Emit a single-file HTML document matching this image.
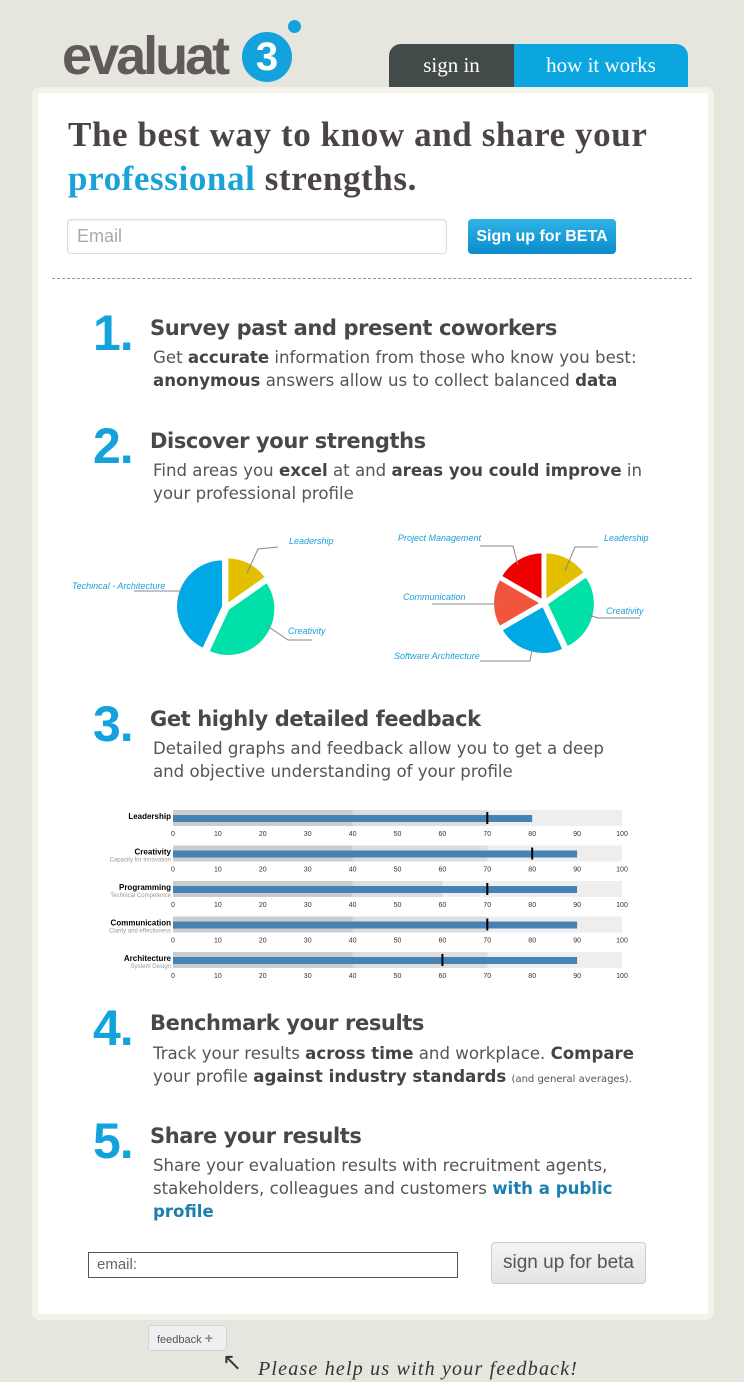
<!DOCTYPE html>
<html><head><meta charset="utf-8"><style>
body{margin:0;width:744px;height:1382px;background:#e6e6df;position:relative;overflow:hidden;font-family:"Liberation Sans",sans-serif}
.a{position:absolute;white-space:nowrap}
.card{position:absolute;left:32px;top:87px;width:670px;height:1221px;background:#fff;border:6px solid #f3f3ea;border-radius:8px}
.num{position:absolute;left:93px;font:bold 50px/50px "Liberation Sans",sans-serif;color:#14a2dc;letter-spacing:-1px}
.h{position:absolute;left:150px;font:bold 21px/22px "DejaVu Sans","Liberation Sans",sans-serif;color:#4a4747;letter-spacing:-0.4px}
.p{position:absolute;left:153px;font:16.6px/23px "DejaVu Sans","Liberation Sans",sans-serif;color:#555;white-space:nowrap}
.p b{color:#444}
</style></head><body>
<div class="a" style="left:62px;top:26px;font:bold 54px/60px 'Liberation Sans',sans-serif;color:#5e5b59;letter-spacing:-3px">evaluat</div>
<div class="a" style="left:242px;top:32px;width:40px;height:40px;border:5px solid #14a2dc;border-radius:50%;background:#14a2dc;color:#fff;font:bold 40px/40px 'Liberation Sans',sans-serif;text-align:center">3</div>
<div class="a" style="left:288px;top:20px;width:13px;height:13px;border-radius:50%;background:#14a2dc"></div>
<div class="a" style="left:389px;top:44px;width:125px;height:43px;background:#434a4a;border-radius:12px 0 0 0;color:#fff;font:21px/43px 'Liberation Serif',serif;text-align:center">sign in</div>
<div class="a" style="left:514px;top:44px;width:174px;height:43px;background:#0ba6e0;border-radius:0 12px 0 0;color:#fff;font:21px/43px 'Liberation Serif',serif;text-align:center">how it works</div>
<div class="card"></div>
<div class="a" style="left:68px;top:113px;font:bold 35px/44px 'Liberation Serif',serif;color:#4a4444;letter-spacing:0.6px">The best way to know and share your</div>
<div class="a" style="left:68px;top:157px;font:bold 35px/44px 'Liberation Serif',serif;color:#4a4444;letter-spacing:0.6px"><span style="color:#1aa3d6">professional</span> strengths.</div>
<div class="a" style="left:67px;top:219px;width:378px;height:33px;border:1px solid #ddd;border-radius:4px;box-shadow:inset 0 1px 2px #eee;font:18px/33px 'Liberation Sans',sans-serif;color:#aaa;text-indent:9px">Email</div>
<div class="a" style="left:468px;top:219px;width:148px;height:35px;border-radius:4px;background:linear-gradient(#2fb3e6,#0b8ccb);color:#fff;font:bold 16px/35px 'Liberation Sans',sans-serif;text-align:center">Sign up for BETA</div>
<div class="a" style="left:52px;top:278px;width:640px;border-top:1px dashed #999"></div>

<div class="num" style="top:308px">1.</div>
<div class="h" style="top:317px">Survey past and present coworkers</div>
<div class="p" style="top:346px">Get <b>accurate</b> information from those who know you best:<br><b>anonymous</b> answers allow us to collect balanced <b>data</b></div>
<div class="num" style="top:421px">2.</div>
<div class="h" style="top:430px">Discover your strengths</div>
<div class="p" style="top:459px">Find areas you <b>excel</b> at and <b>areas you could improve</b> in<br>your professional profile</div>

<svg class="a" style="left:0;top:0" width="744" height="1382" id="s"></svg>

<div class="num" style="top:699px">3.</div>
<div class="h" style="top:708px">Get highly detailed feedback</div>
<div class="p" style="top:737px">Detailed graphs and feedback allow you to get a deep<br>and objective understanding of your profile</div>
<div class="num" style="top:1003px">4.</div>
<div class="h" style="top:1012px">Benchmark your results</div>
<div class="p" style="top:1042px">Track your results <b>across time</b> and workplace. <b>Compare</b><br>your profile <b>against industry standards</b> <span style="font-size:10px">(and general averages).</span></div>
<div class="num" style="top:1116px">5.</div>
<div class="h" style="top:1125px">Share your results</div>
<div class="p" style="top:1154px">Share your evaluation results with recruitment agents,<br>stakeholders, colleagues and customers <b style="color:#1a7fb0">with a public</b><br><b style="color:#1a7fb0">profile</b></div>

<div class="a" style="left:88px;top:1252px;width:368px;height:24px;border:1px solid #555;font:15px/24px 'Liberation Sans',sans-serif;color:#666;text-indent:8px">email:</div>
<div class="a" style="left:491px;top:1242px;width:153px;height:40px;border:1px solid #ccc;border-radius:4px;background:linear-gradient(#f4f4f4,#e4e4e4);font:19px/40px 'Liberation Sans',sans-serif;color:#555;text-align:center">sign up for beta</div>
<div class="a" style="left:148px;top:1325px;width:77px;height:24px;border:1px solid #d4d4d4;border-radius:3px;background:#efefef;font:11px/24px 'Liberation Sans',sans-serif;color:#555;text-indent:8px">feedback <b style="color:#888;font-size:14px">+</b></div>
<div class="a" style="left:222px;top:1348px;font:24px/30px 'Liberation Serif',serif;color:#333">↖</div>
<div class="a" style="left:258px;top:1357px;font:italic 20px/24px 'Liberation Serif',serif;color:#333;letter-spacing:1.2px">Please help us with your feedback!</div>

<script>
var s=document.getElementById('s'),h='';
function P(cx,cy,r,a0,a1,c,ex){var m=(a0+a1)/2*Math.PI/180;cx+=ex*Math.sin(m);cy-=ex*Math.cos(m);
var x0=cx+r*Math.sin(a0*Math.PI/180),y0=cy-r*Math.cos(a0*Math.PI/180),x1=cx+r*Math.sin(a1*Math.PI/180),y1=cy-r*Math.cos(a1*Math.PI/180);
h+='<path d="M'+cx+' '+cy+'L'+x0+' '+y0+'A'+r+' '+r+' 0 '+((a1-a0)>180?1:0)+' 1 '+x1+' '+y1+'Z" fill="'+c+'" stroke="#fff" stroke-width="2"/>';}
function T(x,y,t,a){h+='<text x="'+x+'" y="'+y+'" font-family="Liberation Sans" font-style="italic" font-size="9" fill="#1a9fd8" text-anchor="'+(a||'start')+'">'+t+'</text>';}
function L(p){h+='<polyline points="'+p+'" fill="none" stroke="#888" stroke-width="1"/>';}
P(226,607,47,0,55,'#e2c000',3);P(226,607,47,55,205,'#00e0a8',3);P(226,607,47,205,360,'#00a8e4',3);
L('247,573 258,549 278,547');T(289,544,'Leadership');L('266,625 288,640 312,640');T(288,634,'Creativity');
L('182,591 160,591 134,591');T(72,589,'Techincal - Architecture');
P(544,603,48,0,55,'#e2c000',3);P(544,603,48,55,155,'#00e0a8',3);P(544,603,48,155,240,'#00a8e4',3);P(544,603,48,240,300,'#f2553e',3);P(544,603,48,300,360,'#ee0000',3);
L('565,571 575,547 598,547');T(604,541,'Leadership');L('589,615 598,618 640,618');T(606,614,'Creativity');
L('518,565 513,546 480,546');T(398,541,'Project Management');L('497,604 480,604 432,604');T(403,600,'Communication');
L('532,650 530,661 480,661');T(394,659,'Software Architecture');
var rows=[['Leadership','',[40,70],80,70],['Creativity','Capacity for Innovation',[40,70],90,80],['Programming','Technical Competence',[40,60],90,70],['Communication','Clarity and effectivness',[40,70],90,70],['Architecture','System Design',[40,70],90,60]];
var x0=173,k=4.49;
rows.forEach(function(r,i){var y=810+i*35.5;
h+='<rect x="'+x0+'" y="'+y+'" width="'+(100*k)+'" height="16" fill="#eeeeee"/>';
h+='<rect x="'+x0+'" y="'+y+'" width="'+(r[2][1]*k)+'" height="16" fill="#dddddd"/>';
h+='<rect x="'+x0+'" y="'+y+'" width="'+(r[2][0]*k)+'" height="16" fill="#cccccc"/>';
h+='<rect x="'+x0+'" y="'+(y+5)+'" width="'+(r[3]*k)+'" height="7" fill="#4682b4"/>';
h+='<rect x="'+(x0+r[4]*k-1)+'" y="'+(y+2)+'" width="2" height="12" fill="#000"/>';
h+='<text x="171" y="'+(y+9)+'" font-family="Liberation Sans" font-weight="bold" font-size="8" fill="#000" text-anchor="end">'+r[0]+'</text>';
if(r[1])h+='<text x="171" y="'+(y+16)+'" font-family="Liberation Sans" font-size="6" fill="#999" text-anchor="end">'+r[1]+'</text>';
for(var t=0;t<=100;t+=10)h+='<text x="'+(x0+t*k)+'" y="'+(y+26)+'" font-family="Liberation Sans" font-size="7" fill="#333" text-anchor="middle">'+t+'</text>';
});
s.innerHTML=h;
</script>
</body></html>
